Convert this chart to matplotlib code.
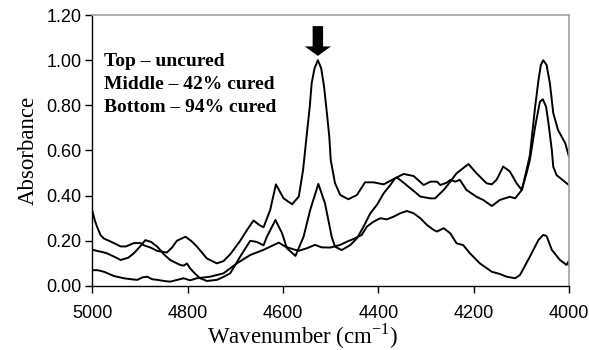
"""NIR absorbance spectra of the resin at three cure states."""

import matplotlib

matplotlib.use("Agg")
import matplotlib.pyplot as plt  # noqa: E402
import matplotlib.patches as mpatches  # noqa: E402

# ---- spectra (wavenumber in cm-1, absorbance) ------------------------------
uncured_wn = [
    5000, 4995, 4990, 4983, 4976, 4960, 4941, 4930, 4913, 4900, 4892, 4878,
    4864, 4844, 4833, 4823, 4805, 4793, 4781, 4760, 4739, 4725, 4711, 4690,
    4675, 4662, 4650, 4641, 4627, 4615, 4599, 4581, 4567, 4558, 4550, 4544,
    4540, 4534, 4527, 4520, 4514, 4508, 4503, 4500, 4491, 4480, 4463, 4445,
    4428, 4410, 4389, 4372, 4361, 4333, 4312, 4291, 4281, 4263, 4249, 4236,
    4211, 4194, 4173, 4162, 4152, 4138, 4124, 4110, 4099, 4089, 4082, 4071,
    4064, 4059, 4054, 4047, 4040, 4033, 4023, 4015, 4008, 4000,
]
uncured_abs = [
    0.33, 0.29, 0.26, 0.225, 0.21, 0.195, 0.175, 0.175, 0.19, 0.19, 0.18, 0.17,
    0.155, 0.148, 0.17, 0.20, 0.218, 0.20, 0.175, 0.122, 0.100, 0.11, 0.14, 0.20,
    0.25, 0.29, 0.27, 0.26, 0.337, 0.45, 0.388, 0.362, 0.396, 0.514, 0.676, 0.794,
    0.898, 0.964, 1.00, 0.964, 0.883, 0.765, 0.661, 0.558, 0.455, 0.403, 0.384, 0.403,
    0.459, 0.459, 0.450, 0.469, 0.481, 0.433, 0.396, 0.388, 0.388, 0.425, 0.462, 0.499,
    0.540, 0.499, 0.455, 0.450, 0.470, 0.529, 0.507, 0.455, 0.425, 0.514, 0.580, 0.794,
    0.912, 0.979, 1.00, 0.979, 0.897, 0.766, 0.691, 0.660, 0.633, 0.573,
]

cured42_wn = [
    5000, 4990, 4983, 4970, 4962, 4950, 4941, 4925, 4913, 4900, 4889, 4877,
    4864, 4850, 4837, 4816, 4808, 4802, 4795, 4785, 4774, 4760, 4739, 4725,
    4711, 4690, 4669, 4655, 4641, 4634, 4616, 4602, 4592, 4574, 4557, 4543,
    4526, 4512, 4498, 4491, 4477, 4459, 4445, 4431, 4417, 4403, 4389, 4375,
    4365, 4347, 4326, 4305, 4291, 4277, 4270, 4256, 4249, 4239, 4229, 4215,
    4194, 4180, 4162, 4145, 4124, 4113, 4099, 4089, 4082, 4071, 4061, 4055,
    4048, 4043, 4036, 4033, 4026, 4005, 4000,
]
cured42_abs = [
    0.16, 0.155, 0.152, 0.145, 0.137, 0.125, 0.115, 0.125, 0.145, 0.175, 0.203, 0.195,
    0.174, 0.14, 0.115, 0.093, 0.09, 0.10, 0.078, 0.055, 0.034, 0.022, 0.027, 0.04,
    0.056, 0.13, 0.20, 0.195, 0.18, 0.218, 0.292, 0.233, 0.167, 0.133, 0.218, 0.337,
    0.452, 0.366, 0.218, 0.174, 0.159, 0.181, 0.211, 0.263, 0.322, 0.359, 0.410, 0.447,
    0.477, 0.496, 0.487, 0.447, 0.462, 0.462, 0.447, 0.458, 0.470, 0.462, 0.470, 0.425,
    0.395, 0.381, 0.354, 0.381, 0.395, 0.388, 0.425, 0.50, 0.558, 0.706, 0.816, 0.827,
    0.794, 0.720, 0.602, 0.528, 0.491, 0.455, 0.447,
]

cured94_wn = [
    5000, 4990, 4976, 4955, 4934, 4920, 4906, 4895, 4885, 4875, 4864, 4850,
    4837, 4820, 4809, 4795, 4781, 4753, 4725, 4697, 4669, 4641, 4627, 4609,
    4595, 4578, 4567, 4550, 4533, 4519, 4501, 4480, 4466, 4449, 4435, 4424,
    4410, 4396, 4382, 4368, 4354, 4340, 4326, 4312, 4298, 4284, 4277, 4263,
    4249, 4236, 4222, 4208, 4187, 4162, 4145, 4131, 4113, 4103, 4082, 4064,
    4054, 4047, 4036, 4019, 4005, 4001, 4000,
]
cured94_abs = [
    0.07, 0.07, 0.063, 0.044, 0.034, 0.03, 0.027, 0.038, 0.041, 0.03, 0.027, 0.022,
    0.019, 0.028, 0.034, 0.025, 0.034, 0.041, 0.056, 0.10, 0.137, 0.16, 0.174, 0.192,
    0.174, 0.162, 0.156, 0.167, 0.182, 0.171, 0.170, 0.182, 0.196, 0.211, 0.226, 0.263,
    0.285, 0.300, 0.295, 0.307, 0.322, 0.332, 0.322, 0.300, 0.27, 0.248, 0.241, 0.256,
    0.233, 0.189, 0.181, 0.145, 0.100, 0.063, 0.053, 0.041, 0.034, 0.048, 0.130, 0.204,
    0.226, 0.221, 0.160, 0.115, 0.093, 0.108, 0.093,
]

legend_lines = ["Top \u2013 uncured", "Middle \u2013 42% cured", "Bottom \u2013 94% cured"]
x_ticks = [5000, 4800, 4600, 4400, 4200, 4000]
y_ticks = [0.0, 0.2, 0.4, 0.6, 0.8, 1.0, 1.2]

plt.rcParams["mathtext.fontset"] = "custom"
plt.rcParams["mathtext.rm"] = "Liberation Serif"

fig = plt.figure(figsize=(5.89, 3.5), dpi=100)
ax = fig.add_axes([0.157, 0.183, 0.809, 0.774])

for wn, ab in [(uncured_wn, uncured_abs), (cured42_wn, cured42_abs), (cured94_wn, cured94_abs)]:
    ax.plot(wn, ab, color="black", lw=1.4, solid_joinstyle="round")

ax.set_xlim(5000, 4000)
ax.set_ylim(0, 1.2)
ax.set_xticks(x_ticks)
ax.set_yticks(y_ticks)
ax.set_xticklabels([str(t) for t in x_ticks], fontfamily="Liberation Sans", fontsize=13)
ax.set_yticklabels([f"{t:.2f}" for t in y_ticks], fontfamily="Liberation Sans", fontsize=13)
ax.tick_params(direction="out", length=5, width=1, color="black", pad=3)
ax.xaxis.set_tick_params(pad=9)

for side in ("left", "bottom"):
    ax.spines[side].set_color("black")
    ax.spines[side].set_linewidth(1.0)
for side in ("top", "right"):
    ax.spines[side].set_color("#a0a0a0")
    ax.spines[side].set_linewidth(1.2)

ax.set_xlabel("Wavenumber (cm$^{-1}$)", fontfamily="Liberation Serif", fontsize=16.5, labelpad=1)
ax.xaxis.set_label_coords(0.44, -0.13, transform=ax.transAxes)
ax.xaxis.label.set_va("top")
ax.set_ylabel("Absorbance", fontfamily="Liberation Serif", fontsize=16.5, labelpad=5)

# arrow pointing down at the 4527 cm-1 band of the uncured spectrum
peak_i = uncured_abs.index(max(uncured_abs[:50]))
peak_x, peak_y = uncured_wn[peak_i], uncured_abs[peak_i]
arrow_top = peak_y + 0.151
arrow_tip = peak_y + 0.019
ax.add_patch(mpatches.FancyArrow(
    peak_x, arrow_top, 0, arrow_tip - arrow_top,
    width=22, head_width=55, head_length=0.042,
    length_includes_head=True, color="black", lw=0,
))

for i, line in enumerate(legend_lines):
    ax.text(0.025, 0.83 - i * 0.085, line, transform=ax.transAxes,
            fontfamily="Liberation Serif", fontweight="bold", fontsize=14,
            va="center", ha="left")

fig.savefig("out.png", dpi=100)
